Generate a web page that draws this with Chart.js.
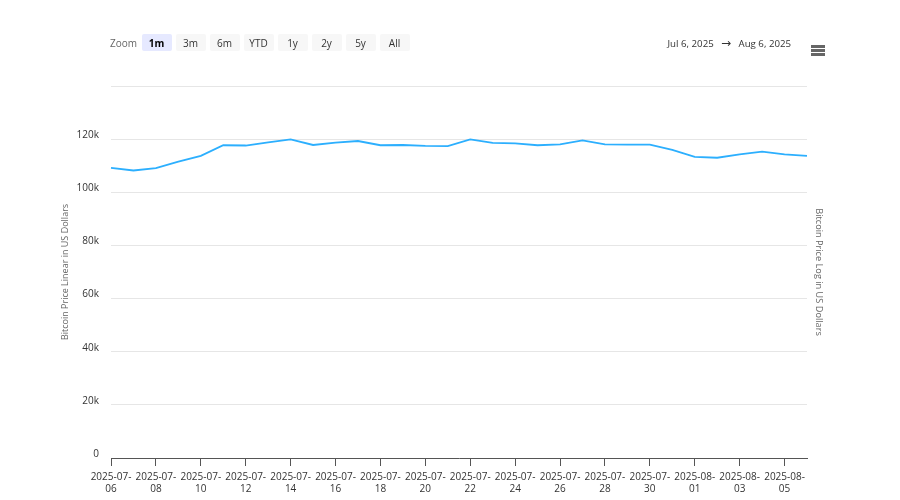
<!DOCTYPE html>
<html>
<head>
<meta charset="utf-8">
<script src="https://cdn.jsdelivr.net/npm/chart.js@4"></script>
<style>
html,body{margin:0;padding:0;background:#fff;}
#wrap{position:relative;width:900px;height:500px;overflow:hidden;font-family:"Open Sans",sans-serif;}
canvas{position:absolute;left:0;top:0;}
.t{position:absolute;font-size:9.7px;line-height:17px;color:#333;white-space:nowrap;}
.b{position:absolute;top:34px;width:30px;height:17px;line-height:18px;text-align:center;font-size:10px;color:#333;background:#f7f7f7;border-radius:2px;}
.b.on{background:#e6e9ff;font-weight:700;color:#000;}
.m{position:absolute;left:811px;width:14px;height:3px;background:#666;}
</style>
</head>
<body>
<div id="wrap">
<canvas id="c" width="900" height="500"></canvas>
<div id="ui"></div>
</div>
<script>
const categories = ["2025-07-06","2025-07-07","2025-07-08","2025-07-09","2025-07-10","2025-07-11","2025-07-12","2025-07-13","2025-07-14","2025-07-15","2025-07-16","2025-07-17","2025-07-18","2025-07-19","2025-07-20","2025-07-21","2025-07-22","2025-07-23","2025-07-24","2025-07-25","2025-07-26","2025-07-27","2025-07-28","2025-07-29","2025-07-30","2025-07-31","2025-08-01","2025-08-02","2025-08-03","2025-08-04","2025-08-05","2025-08-06"];
const prices = [109200,108200,109100,111500,113700,117700,117600,118800,119900,117800,118700,119300,117700,117800,117500,117400,119900,118600,118400,117700,118000,119500,118000,117900,117900,116000,113300,113000,114300,115300,114300,113700];
const yTicks = [0,20000,40000,60000,80000,100000,120000,140000];
const zoomLabels = ["1m","3m","6m","YTD","1y","2y","5y","All"];
const zoomTitle = "Zoom";
const rangeFrom = "Jul 6, 2025", rangeTo = "Aug 6, 2025";
const leftTitle = "Bitcoin Price Linear in US Dollars";
const rightTitle = "Bitcoin Price Log in US Dollars";

const ui = document.getElementById('ui');
function add(cls, text, left, extra){
  const d = document.createElement('div');
  d.className = cls; d.textContent = text;
  if(left !== null) d.style.left = left + 'px';
  if(extra) Object.assign(d.style, extra);
  ui.appendChild(d);
}
add('t', zoomTitle, 110, {top:'35px', color:'#666', fontSize:'10px'});
zoomLabels.forEach((z,i)=>add(i===0?'b on':'b', z, 141.5+34*i));
add('t', rangeFrom, 667.5, {top:'34.5px'});
add('t', '→', 721, {top:'34.5px', fontSize:'12px', fontFamily:'"DejaVu Sans",sans-serif'});
add('t', rangeTo, 738.5, {top:'34.5px'});
[44.5,48.5,52.5].forEach(y=>add('m','',null,{top:y+'px'}));

new Chart(document.getElementById('c'), {
  type:'line',
  data:{labels:categories, datasets:[{data:prices, borderColor:'#2caffe', borderWidth:1.8, pointRadius:0, tension:0, yAxisID:'y', xAxisID:'x', fill:false}]},
  options:{
    responsive:false, animation:false, devicePixelRatio:1,
    layout:{padding:{left:60,top:86,right:76,bottom:0}},
    plugins:{legend:{display:false},tooltip:{enabled:false},title:{display:false}},
    scales:{
      x:{
        type:'category', offset:false,
        grid:{drawOnChartArea:false, drawTicks:true, tickLength:8, color:'#555', tickWidth:1},
        border:{display:true,color:'#555',width:1},
        ticks:{autoSkip:false,maxRotation:0,minRotation:0,padding:5,color:'#333',
          font:{family:'"Open Sans",sans-serif',size:10,lineHeight:1.2},
          callback(v,i){ if(i%2) return null; const s=categories[i]; return [s.slice(0,8), s.slice(8)]; }},
        afterFit(s){s.height=42;}
      },
      y:{
        position:'left', min:0, max:140000,
        afterBuildTicks(s){s.ticks=yTicks.map(v=>({value:v}));},
        grid:{color:'#e6e6e6',drawTicks:false,lineWidth:1},
        border:{display:false},
        ticks:{padding:12,labelOffset:-4,color:'#333',font:{family:'"Open Sans",sans-serif',size:10},
          callback(v){ return v===140000?'':(v===0?'0':(v/1000)+'k'); }},
        title:{display:true,text:leftTitle,color:'#666',padding:0,font:{family:'"Open Sans",sans-serif',size:9}},
        afterFit(s){s.width=51;}
      },
      y2:{
        position:'right', min:0, max:140000,
        grid:{display:false,drawTicks:false},
        border:{display:false},
        ticks:{display:false},
        title:{display:true,text:rightTitle,color:'#666',padding:0,font:{family:'"Open Sans",sans-serif',size:9.2}},
        afterFit(s){s.width=17;}
      }
    }
  }
});
</script>
</body>
</html>
